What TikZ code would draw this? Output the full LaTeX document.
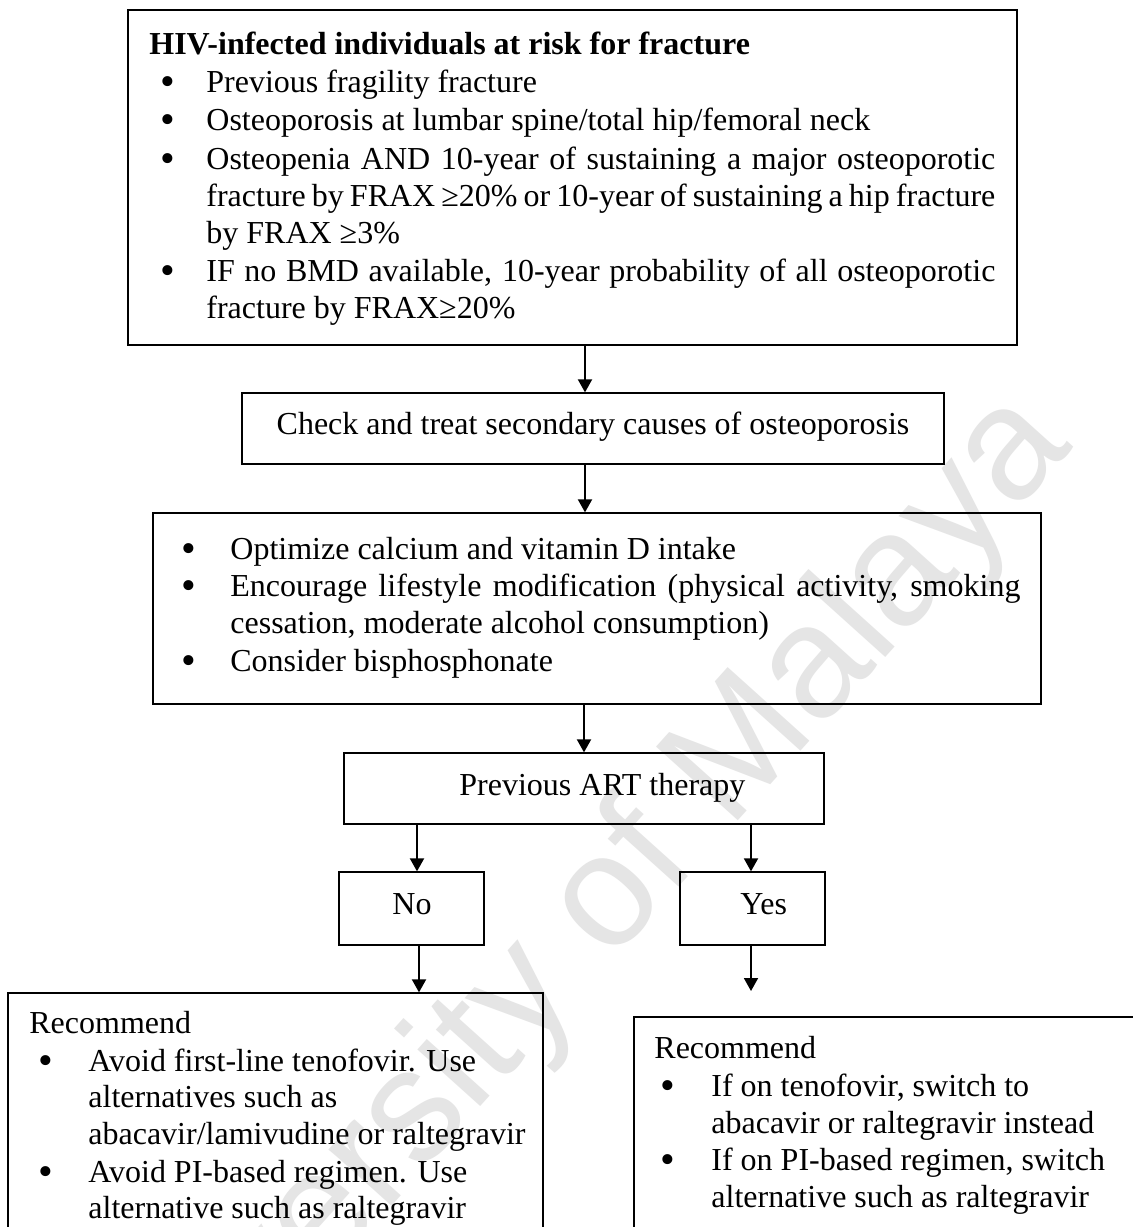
\documentclass[tikz,border=0pt]{standalone}
\usepackage{fontspec}
\setmainfont{Liberation Serif}
\newfontfamily\wmfont{Liberation Sans}
\usetikzlibrary{arrows.meta,fit}
\definecolor{wmgray}{RGB}{229,229,229}
\tikzset{
  box/.style={draw=black, line width=0.65pt, inner sep=0pt},
  arr/.style={draw=black, line width=0.95pt, -{Triangle[length=6.5pt,width=7pt]}},
  txt/.style={anchor=base west, inner sep=0pt, font=\fontsize{16pt}{18.75pt}\selectfont},
  bul/.style={anchor=base, inner sep=0pt, font=\fontsize{21pt}{22pt}\selectfont},
  wm/.style={text=wmgray, font=\wmfont\fontsize{80pt}{82pt}\selectfont, inner sep=0pt}
}
\newcommand\jline[1]{\makebox[394.5pt][s]{#1}}
\newcommand\tline[4]{\node[txt] (#1) at (#2,#3) {#4};}
\newcommand\bdot[3]{\node[bul] (#1) at (#2,#3+3) {\textbullet};}
\begin{document}
\begin{tikzpicture}[x=0.5pt,y=-0.5pt]
\useasboundingbox (0,0) rectangle (1133,1227);
\clip (0,0) rectangle (1133,1227);
\fill[white] (0,0) rectangle (1133,1227);
% watermark
\node[wm, rotate=48] (wm) at (562,955) {University of Malaya};
% boxes
\node[box, fit={(128,10) (1017,345)}] (b1) {};
\node[box, fit={(242,393) (944,464)}] (b2) {};
\node[box, fit={(153,513) (1041,704)}] (b3) {};
\node[box, fit={(344,753) (824,824)}] (art) {};
\node[box, fit={(339,872) (484,945)}] (no) {};
\node[box, fit={(680,872) (825,945)}] (yes) {};
\node[box, fit={(8,993) (543,1245)}] (recno) {};
\node[box, fit={(634,1017) (1145,1245)}] (recyes) {};
% box 1 text
\node[txt, font=\fontsize{16pt}{18.75pt}\selectfont\bfseries] (t1) at (149,54) {HIV-infected individuals at risk for fracture};
\bdot{d11}{168}{92}  \tline{t11}{206}{92}{Previous fragility fracture}
\bdot{d12}{168}{130} \tline{t12}{206}{130}{Osteoporosis at lumbar spine/total hip/femoral neck}
\bdot{d13}{168}{169} \tline{t13}{206}{169}{\jline{Osteopenia AND 10-year of sustaining a major osteoporotic}}
\tline{t14}{206}{206}{\jline{fracture by FRAX ≥20\% or 10-year of sustaining a hip fracture}}
\tline{t15}{206}{243}{by FRAX ≥3\%}
\bdot{d14}{168}{281} \tline{t16}{206}{281}{\jline{IF no BMD available, 10-year probability of all osteoporotic}}
\tline{t17}{206}{318}{fracture by FRAX≥20\%}
% box 2 text
\node[txt, anchor=base] (t2) at (593,434) {Check and treat secondary causes of osteoporosis};
% box 3 text
\bdot{d31}{189}{559} \tline{t31}{230}{559}{Optimize calcium and vitamin D intake}
\bdot{d32}{189}{596} \tline{t32}{230}{596}{\makebox[395pt][s]{Encourage lifestyle modification (physical activity, smoking}}
\tline{t33}{230}{633}{cessation, moderate alcohol consumption)}
\bdot{d33}{189}{671} \tline{t34}{230}{671}{Consider bisphosphonate}
% decision texts
\tline{tart}{459}{795}{Previous ART therapy}
\tline{tno}{392}{914}{No}
\tline{tyes}{740}{914}{Yes}
% left recommendation
\tline{r1}{29}{1033}{Recommend}
\bdot{dr1}{46}{1071} \tline{r11}{88}{1071}{Avoid first-line tenofovir. Use}
\tline{r12}{88}{1107}{alternatives such as}
\tline{r13}{88}{1144}{abacavir/lamivudine or raltegravir}
\bdot{dr2}{46}{1182} \tline{r14}{88}{1182}{Avoid PI-based regimen. Use}
\tline{r15}{88}{1218}{alternative such as raltegravir}
% right recommendation
\tline{r2}{654}{1058}{Recommend}
\bdot{dr3}{668}{1096} \tline{r21}{711}{1096}{If on tenofovir, switch to}
\tline{r22}{711}{1133}{abacavir or raltegravir instead}
\bdot{dr4}{668}{1170} \tline{r23}{711}{1170}{If on PI-based regimen, switch}
\tline{r24}{711}{1207}{alternative such as raltegravir}
% connectors
\coordinate (x1) at (585,0);
\coordinate (x2) at (584,0);
\coordinate (xn1) at (417,0);
\coordinate (xn2) at (419,0);
\coordinate (xy) at (751,0);
\coordinate (yesend) at (751,991);
\draw[arr] (b1.south -| x1) -- (b2.north -| x1);
\draw[arr] (b2.south -| x1) -- (b3.north -| x1);
\draw[arr] (b3.south -| x2) -- (art.north -| x2);
\draw[arr] (art.south -| xn1) -- (no.north -| xn1);
\draw[arr] (art.south -| xy) -- (yes.north -| xy);
\draw[arr] (no.south -| xn2) -- (recno.north -| xn2);
\draw[arr] (yes.south -| xy) -- (yesend);
\end{tikzpicture}
\end{document}
